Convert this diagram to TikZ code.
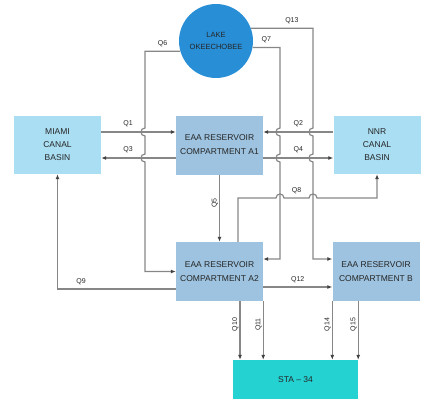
\documentclass[tikz,border=0pt]{standalone}
\usepackage{fontspec}
\setmainfont{Liberation Sans}
\usetikzlibrary{arrows.meta,positioning,calc}
\definecolor{lakeblue}{RGB}{40,142,214}
\definecolor{basinblue}{RGB}{170,222,243}
\definecolor{cellblue}{RGB}{157,195,224}
\definecolor{stacyan}{RGB}{36,210,210}
\definecolor{pipegray}{RGB}{135,135,135}
\tikzset{
    basin/.style={
        fill=basinblue,
        minimum width=87pt,
        minimum height=58pt,
        align=center,
        inner sep=1pt,
        text=black!85,
        font=\fontsize{8.5}{13}\selectfont
    },
    cell/.style={
        fill=cellblue,
        minimum width=87pt,
        minimum height=59pt,
        align=center,
        inner sep=1pt,
        text=black!85,
        font=\fontsize{8.5}{14}\selectfont
    },
    lakenode/.style={
        circle,
        fill=lakeblue,
        minimum size=74pt,
        align=center,
        inner sep=0pt,
        text=black!85,
        font=\fontsize{7.5}{12}\selectfont
    },
    stanode/.style={
        fill=stacyan,
        minimum width=125pt,
        minimum height=39pt,
        text=black!85,
        font=\fontsize{8.5}{10}\selectfont
    },
    flow/.style={-{Latex[length=5pt,width=4pt,color=black!75]}, draw=pipegray, line width=1.2pt},
    qlabel/.style={font=\fontsize{7}{8}\selectfont, inner sep=1pt, text=black!85}
}
% small bridge where a pipe jumps over another one
\newcommand{\vhop}[2]{-- (#1,#2-4) .. controls (#1-5.3,#2-4) and (#1-5.3,#2+4) .. (#1,#2+4)}
\newcommand{\hhop}[2]{-- (#1-4,#2) .. controls (#1-4,#2-5.3) and (#1+4,#2-5.3) .. (#1+4,#2)}

\begin{document}
\begin{tikzpicture}[x=1pt,y=-1pt]
        \useasboundingbox (0,0) rectangle (436,402);

        \node[lakenode] (lake) at (216,41) {LAKE\\OKEECHOBEE};
        \node[basin] (miami) at (57.5,145) {MIAMI\\CANAL\\BASIN};
        \node[cell] (a1) at (219.5,145) {EAA RESERVOIR\\COMPARTMENT A1};
        \node[basin] (nnr) at (377,145) {NNR\\CANAL\\BASIN};
        \node[cell] (a2) at (219.5,271.5) {EAA RESERVOIR\\COMPARTMENT A2};
        \node[cell] (b) at (376,271.5) {EAA RESERVOIR\\COMPARTMENT B};
        \node[stanode] (sta) at (295.5,379.5) {STA -- 34};

        % canal basins <-> A1
        \draw[flow] ([yshift=13pt]miami.east) -- node[qlabel,above=4pt,pos=0.36]{Q1} ([yshift=13pt]a1.west);
        \draw[flow] ([yshift=-13pt]a1.west) -- node[qlabel,above=4pt,pos=0.64]{Q3} ([yshift=-13pt]miami.east);
        \draw[flow] ([yshift=13pt]nnr.west) -- node[qlabel,above=4pt]{Q2} ([yshift=13pt]a1.east);
        \draw[flow] ([yshift=-13pt]a1.east) -- node[qlabel,above=4pt]{Q4} ([yshift=-13pt]nnr.west);

        % lake outflows
        \draw[flow] (lake.196) -| node[qlabel,above=3pt,pos=0.25]{Q6} (145,128)
            \vhop{145}{132} \vhop{145}{158} |- (a2.west);
        \draw[flow] (lake.350) -| node[qlabel,above=3pt,pos=0.25]{Q7} (280,128)
            \vhop{280}{132} \vhop{280}{158} |- ([yshift=12.5pt]a2.east);
        \draw[flow] (lake.20) -| node[qlabel,above=3pt,pos=0.33]{Q13} (313,128)
            \vhop{313}{132} \vhop{313}{158} |- ([yshift=12.5pt]b.west);

        % between compartments
        \draw[flow] (a1.south) -- node[qlabel,rotate=90,above=5pt]{Q5} (a2.north);
        \draw[flow] ([xshift=18.5pt]a2.north) |- (276,198) \hhop{280}{198}
            -- node[qlabel,above=3pt]{Q8} (309,198) \hhop{313}{198} -| (nnr.south);
        \draw[flow] ([yshift=-17.5pt]a2.west) -| node[qlabel,above=3pt,pos=0.4]{Q9} (miami.south);
        \draw[flow] ([yshift=-15.5pt]a2.east) -- node[qlabel,above=3pt]{Q12} ([yshift=-15.5pt]b.west);

        % to STA-34
        \coordinate (q10top) at ([xshift=20.5pt]a2.south);
        \draw[flow] (q10top) -- node[qlabel,rotate=90,above=6pt]{Q10} (q10top |- sta.north);
        \draw[flow] (a2.south east) -- node[qlabel,rotate=90,above=6pt]{Q11} (a2.south east |- sta.north);
        \draw[flow] (b.south west) -- node[qlabel,rotate=90,above=6pt]{Q14} (b.south west |- sta.north);
        \draw[flow] (sta.north east |- b.south) -- node[qlabel,rotate=90,above=6pt]{Q15} (sta.north east);
    \end{tikzpicture}
\end{document}
